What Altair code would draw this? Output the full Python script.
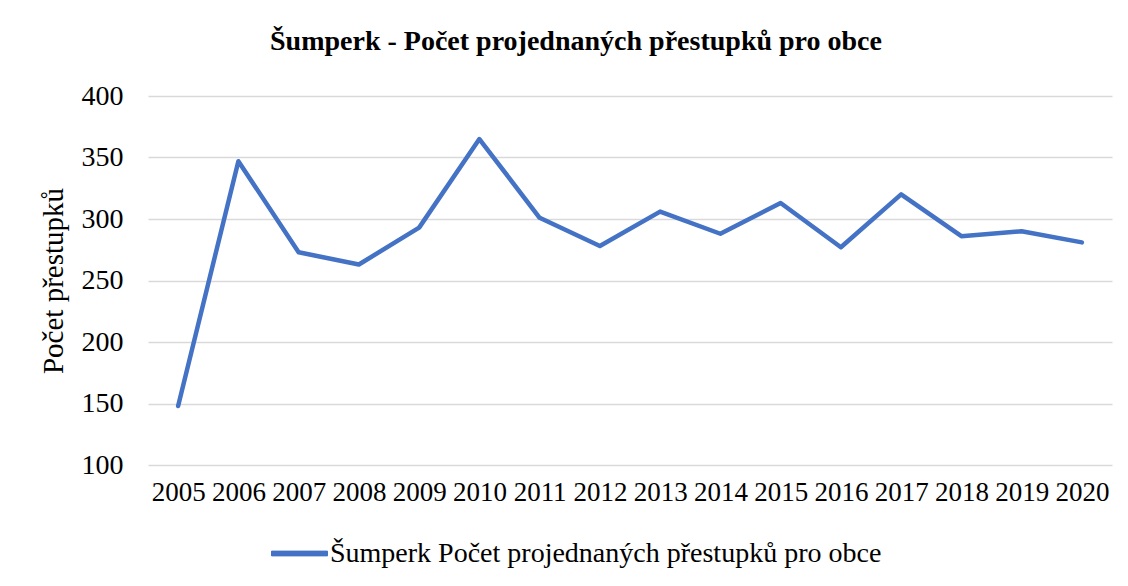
import altair as alt
import pandas as pd

years = [str(y) for y in range(2005, 2021)]
values = [148, 347, 273, 263, 293, 365, 301, 278, 306, 288, 313, 277, 320, 286, 290, 281]
series_name = "Šumperk Počet projednaných přestupků pro obce"

df = pd.DataFrame({"rok": years, "hodnota": values, "serie": series_name})

FONT = "Liberation Serif"

chart = alt.Chart(df).mark_line(strokeWidth=4.5, strokeCap="round", strokeJoin="round").encode(
    x=alt.X("rok:O", title=None, sort=years,
            axis=alt.Axis(labelAngle=0, labelFontSize=27, labelPadding=14, ticks=False,
                          domain=False, grid=False, labelColor="#000000", labelFont=FONT)),
    y=alt.Y("hodnota:Q", title="Počet přestupků",
            scale=alt.Scale(domain=[100, 400], nice=False, zero=False),
            axis=alt.Axis(values=[100, 150, 200, 250, 300, 350, 400], labelFontSize=28,
                          labelPadding=25, ticks=False, domain=False, gridColor="#d9d9d9",
                          gridWidth=1.5, labelColor="#000000", labelFont=FONT,
                          titleFont=FONT, titleFontSize=29, titleFontWeight="normal",
                          titleColor="#000000", titlePadding=13)),
    color=alt.Color("serie:N", scale=alt.Scale(range=["#4472C4"]),
                    legend=alt.Legend(title=None, orient="none", legendX=123, legendY=429,
                                      symbolType="M-1,-0.085L1,-0.085L1,0.085L-1,0.085Z",
                                      symbolFillColor="#4472C4", symbolStrokeColor="#4472C4",
                                      symbolStrokeWidth=1, symbolOpacity=1,
                                      symbolSize=3136, labelFontSize=28, labelFont=FONT,
                                      labelColor="#000000", labelOffset=2, labelLimit=0)),
).properties(
    width=964,
    height=369,
    title=alt.Title("Šumperk - Počet projednaných přestupků pro obce", fontSize=28,
                    font=FONT, fontWeight="bold", color="#000000", anchor="middle",
                    dx=-54, offset=26),
    autosize=alt.AutoSizeParams(type="none"),
    padding={"left": 140, "top": 88, "right": 8, "bottom": 112},
).configure_view(stroke=None)

chart.save("out.html", embed_options={"renderer": "svg", "actions": False})
